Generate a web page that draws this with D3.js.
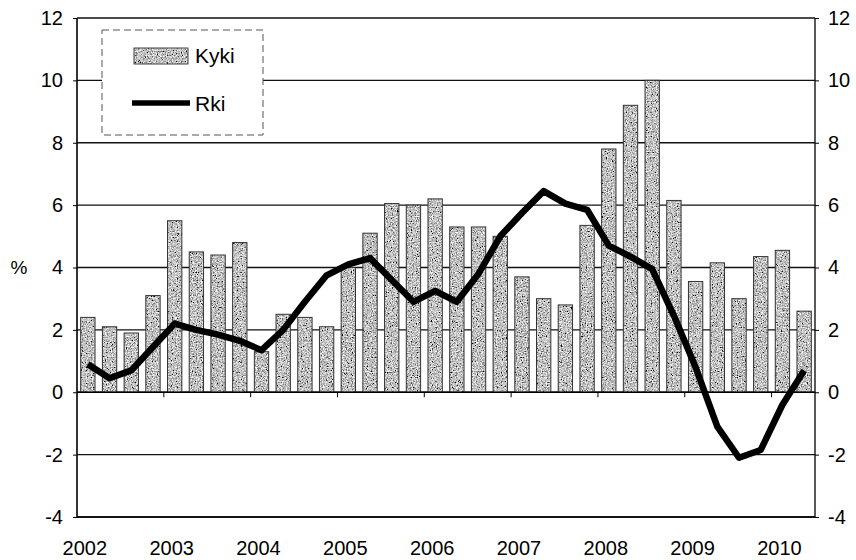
<!DOCTYPE html>
<html>
<head>
<meta charset="utf-8">
<script src="https://cdn.jsdelivr.net/npm/d3@7"></script>
<style>
  body { margin: 0; background: #fff; }
  text { font-family: "Liberation Sans", Arial, sans-serif; fill: #000; }
</style>
</head>
<body>
<script>
var quarters = ["2002Q1","2002Q2","2002Q3","2002Q4","2003Q1","2003Q2","2003Q3","2003Q4",
  "2004Q1","2004Q2","2004Q3","2004Q4","2005Q1","2005Q2","2005Q3","2005Q4",
  "2006Q1","2006Q2","2006Q3","2006Q4","2007Q1","2007Q2","2007Q3","2007Q4",
  "2008Q1","2008Q2","2008Q3","2008Q4","2009Q1","2009Q2","2009Q3","2009Q4",
  "2010Q1","2010Q2"];
var kyki = [2.4, 2.1, 1.9, 3.1, 5.5, 4.5, 4.4, 4.8, 1.3, 2.5, 2.4, 2.1,
  4.0, 5.1, 6.05, 6.0, 6.2, 5.3, 5.3, 5.0, 3.7, 3.0, 2.8, 5.35,
  7.8, 9.2, 10.0, 6.15, 3.55, 4.15, 3.0, 4.35, 4.55, 2.6];
var rki = [0.9, 0.45, 0.7, 1.45, 2.2, 2.0, 1.85, 1.65, 1.35, 2.0, 2.9, 3.75,
  4.1, 4.3, 3.6, 2.9, 3.25, 2.9, 3.8, 5.0, 5.75, 6.45, 6.05, 5.85,
  4.7, 4.35, 3.95, 2.45, 0.8, -1.1, -2.1, -1.85, -0.4, 0.7];
var years = ["2002","2003","2004","2005","2006","2007","2008","2009","2010"];
var yTicks = [-4, -2, 0, 2, 4, 6, 8, 10, 12];
var seriesNames = ["Kyki", "Rki"];

var w = 856, h = 560;
var pLeft = 77, pRight = 815, pTop = 18, pBottom = 517;

var svg = d3.select("body").append("svg").attr("width", w).attr("height", h);

// grainy grey fill, like the scanned bars
var defs = svg.append("defs");
var f = defs.append("filter").attr("id", "grain")
  .attr("x", 0).attr("y", 0).attr("width", 1).attr("height", 1)
  .attr("filterUnits", "objectBoundingBox");
f.append("feTurbulence").attr("type", "fractalNoise").attr("baseFrequency", 0.8)
  .attr("numOctaves", 2).attr("seed", 7).attr("result", "n");
f.append("feColorMatrix").attr("in", "n").attr("type", "matrix")
  .attr("values", "0.33 0.33 0.33 0 0  0.33 0.33 0.33 0 0  0.33 0.33 0.33 0 0  0 0 0 0 1")
  .attr("result", "g");
var ct = f.append("feComponentTransfer").attr("in", "g").attr("result", "c");
["feFuncR", "feFuncG", "feFuncB"].forEach(function(k){
  ct.append(k).attr("type", "linear").attr("slope", 3.6).attr("intercept", -1.25);
});
f.append("feComposite").attr("in", "c").attr("in2", "SourceGraphic").attr("operator", "in");

var x = d3.scaleBand().domain(quarters).range([pLeft, pRight]).paddingInner(0.34).paddingOuter(0.17);
var y = d3.scaleLinear().domain([-4, 12]).range([pBottom, pTop]);

// gridlines
svg.selectAll("line.grid").data(yTicks).enter().append("line")
  .attr("class", "grid")
  .attr("x1", pLeft).attr("x2", pRight)
  .attr("y1", function(d){ return y(d); }).attr("y2", function(d){ return y(d); })
  .attr("stroke", "#111").attr("stroke-width", 1.3);

// bars
var bars = svg.selectAll("g.bar").data(kyki).enter().append("g").attr("class", "bar");
bars.append("rect")
  .attr("x", function(d, i){ return x(quarters[i]); })
  .attr("y", function(d){ return y(d); })
  .attr("width", x.bandwidth())
  .attr("height", function(d){ return y(0) - y(d); })
  .attr("fill", "#999")
  .attr("filter", "url(#grain)");
bars.append("rect")
  .attr("x", function(d, i){ return x(quarters[i]); })
  .attr("y", function(d){ return y(d); })
  .attr("width", x.bandwidth())
  .attr("height", function(d){ return y(0) - y(d); })
  .attr("fill", "none").attr("stroke", "#333").attr("stroke-width", 1);

// zero line + year ticks
svg.append("line").attr("x1", pLeft).attr("x2", pRight)
  .attr("y1", y(0)).attr("y2", y(0)).attr("stroke", "#000").attr("stroke-width", 1.5);
svg.selectAll("line.ytick").data(years.slice(1)).enter().append("line")
  .attr("x1", function(d){ return x(d + "Q1") - x.step() * x.paddingInner() / 2; })
  .attr("x2", function(d){ return x(d + "Q1") - x.step() * x.paddingInner() / 2; })
  .attr("y1", y(0)).attr("y2", y(0) + 5)
  .attr("stroke", "#000").attr("stroke-width", 1);

// frame
svg.append("line").attr("x1", pLeft).attr("x2", pLeft).attr("y1", pTop).attr("y2", pBottom)
  .attr("stroke", "#000").attr("stroke-width", 1.6);
svg.append("line").attr("x1", pRight).attr("x2", pRight).attr("y1", pTop).attr("y2", pBottom)
  .attr("stroke", "#000").attr("stroke-width", 1.3);
svg.append("line").attr("x1", pLeft).attr("x2", pRight).attr("y1", pBottom).attr("y2", pBottom)
  .attr("stroke", "#000").attr("stroke-width", 1.6);

// axes
var fmt = function(d){ return String(d); };
var yl = svg.append("g").attr("transform", "translate(" + pLeft + ",0)")
  .call(d3.axisLeft(y).tickValues(yTicks).tickFormat(fmt).tickSize(4).tickPadding(10));
var yr = svg.append("g").attr("transform", "translate(" + pRight + ",0)")
  .call(d3.axisRight(y).tickValues(yTicks).tickFormat(fmt).tickSize(4).tickPadding(9));
[yl, yr].forEach(function(a){
  a.select(".domain").remove();
  a.selectAll("text").style("font-size", "20px").attr("fill", "#000")
    .style("font-family", "Liberation Sans, Arial, sans-serif");
  a.selectAll("line").attr("stroke", "#000");
});

svg.append("text").attr("x", 19).attr("y", y(4)).attr("dy", "0.35em")
  .attr("text-anchor", "middle").style("font-size", "19px").text("%");

// year labels
svg.selectAll("text.year").data(years).enter().append("text")
  .attr("class", "year")
  .attr("x", function(d){ return x(d + "Q1") + x.bandwidth() / 2 - 3; })
  .attr("y", 555)
  .attr("text-anchor", "middle")
  .style("font-size", "20px")
  .text(function(d){ return d; });

// Rki line
var line = d3.line()
  .x(function(d, i){ return x(quarters[i]) + x.bandwidth() / 2; })
  .y(function(d){ return y(d); });
svg.append("path").datum(rki).attr("d", line)
  .attr("fill", "none").attr("stroke", "#000").attr("stroke-width", 6.5)
  .attr("stroke-linejoin", "round");

// legend
var lg = svg.append("g");
lg.append("rect").attr("x", 102).attr("y", 30).attr("width", 161).attr("height", 105)
  .attr("fill", "#fff").attr("stroke", "#555").attr("stroke-width", 1)
  .attr("stroke-dasharray", "7,4");
lg.append("rect").attr("x", 134).attr("y", 48).attr("width", 54).attr("height", 16)
  .attr("fill", "#999").attr("filter", "url(#grain)");
lg.append("rect").attr("x", 134).attr("y", 48).attr("width", 54).attr("height", 16)
  .attr("fill", "none").attr("stroke", "#444").attr("stroke-width", 1);
lg.append("line").attr("x1", 132).attr("x2", 190).attr("y1", 103).attr("y2", 103)
  .attr("stroke", "#000").attr("stroke-width", 5.5);
lg.selectAll("text").data(seriesNames).enter().append("text")
  .attr("x", 195)
  .attr("y", function(d, i){ return i === 0 ? 56 : 104; })
  .attr("dy", "0.35em")
  .style("font-size", "21px")
  .text(function(d){ return d; });
</script>
</body>
</html>
